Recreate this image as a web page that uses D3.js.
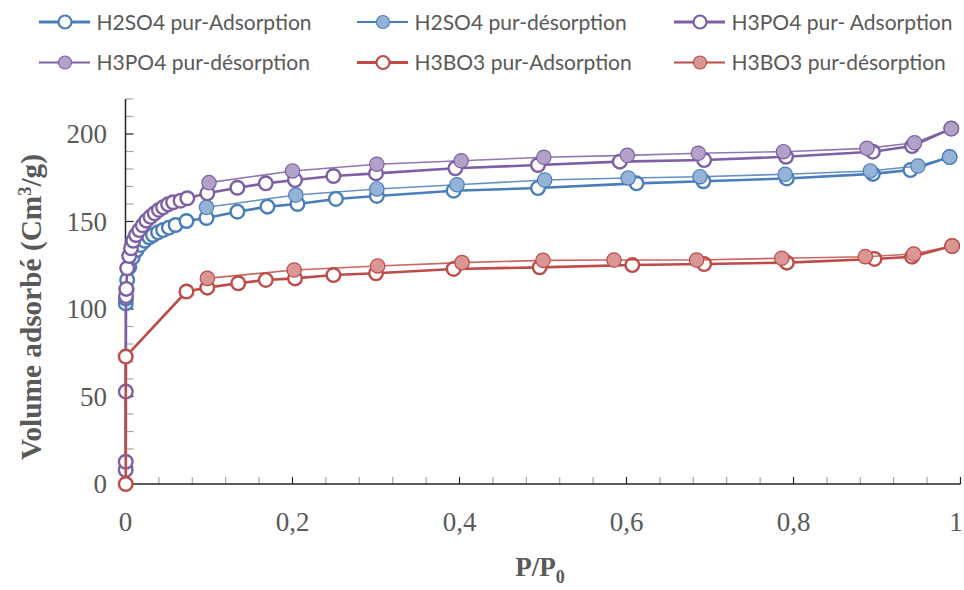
<!DOCTYPE html>
<html>
<head>
<meta charset="utf-8">
<script src="https://cdn.jsdelivr.net/npm/d3@7/dist/d3.min.js"></script>
<style>
  html, body { margin: 0; padding: 0; background: #fff; }
  svg { display: block; }
</style>
</head>
<body>
<svg id="chart" width="964" height="590"></svg>
<script>
// Nitrogen isotherms: relative pressure P/P0 and adsorbed volume (cm3/g)
const seriesNames = [
  "H2SO4 pur-Adsorption", "H2SO4 pur-désorption",
  "H3PO4 pur- Adsorption", "H3PO4 pur-désorption",
  "H3BO3 pur-Adsorption", "H3BO3 pur-désorption"
];

const h2so4AdsP = [0.0003, 0.0006, 0.0012, 0.002, 0.0045, 0.0086, 0.0134, 0.018, 0.023, 0.0285, 0.033, 0.039, 0.045, 0.052, 0.06, 0.073, 0.097, 0.134, 0.170, 0.206, 0.252, 0.301, 0.393, 0.494, 0.612, 0.692, 0.792, 0.895, 0.940, 0.987];
const h2so4AdsV = [103.2, 106, 111, 116.6, 124, 129.5, 133.7, 136.6, 139, 141, 142.3, 143.8, 145.1, 146.5, 148, 150.3, 152, 155.6, 158.5, 160, 162.9, 164.6, 167.6, 169.1, 171.8, 173, 174.6, 177.2, 179.4, 186.8];

const h2so4DesP = [0.987, 0.949, 0.892, 0.790, 0.688, 0.602, 0.502, 0.397, 0.301, 0.204, 0.097];
const h2so4DesV = [186.8, 181.7, 178.9, 177, 175.6, 174.9, 173.7, 171, 168.6, 165.1, 158.1];

const h3po4AdsP = [0.0002, 0.0003, 0.0004, 0.0006, 0.001, 0.002, 0.0045, 0.0066, 0.0093, 0.0126, 0.0165, 0.0206, 0.025, 0.030, 0.035, 0.040, 0.045, 0.051, 0.057, 0.066, 0.074, 0.098, 0.134, 0.168, 0.203, 0.249, 0.300, 0.395, 0.494, 0.592, 0.693, 0.791, 0.895, 0.942, 0.989];
const h3po4AdsV = [8, 12.7, 52.8, 107.4, 111.5, 123.3, 130.3, 134.7, 139, 142.3, 145.1, 147.8, 150.5, 152.7, 154.7, 156.6, 158.1, 159.8, 161, 161.9, 163.3, 166.1, 169.3, 171.8, 173.7, 176, 177.5, 180.4, 182.3, 184.2, 185.1, 187, 189.9, 193.1, 203.1];

const h3po4DesP = [0.989, 0.945, 0.888, 0.788, 0.686, 0.601, 0.501, 0.402, 0.301, 0.200, 0.100];
const h3po4DesV = [203.1, 195, 191.8, 189.9, 189, 187.8, 186.7, 184.7, 182.7, 178.9, 172.2];

const h3bo3AdsP = [0.0003, 0.0003, 0.073, 0.098, 0.135, 0.168, 0.203, 0.249, 0.300, 0.393, 0.496, 0.607, 0.693, 0.792, 0.897, 0.942, 0.990];
const h3bo3AdsV = [0, 72.8, 110, 112.2, 114.7, 116.6, 117.5, 119.4, 120.4, 122.9, 123.8, 125.1, 125.7, 126.5, 128.6, 129.9, 136];

const h3bo3DesP = [0.990, 0.944, 0.886, 0.786, 0.684, 0.585, 0.500, 0.403, 0.302, 0.202, 0.098];
const h3bo3DesV = [136, 131.4, 129.9, 129, 128, 128, 127.8, 126.5, 124.6, 122.3, 117.5];

const xTickLabels = ["0", "0,2", "0,4", "0,6", "0,8", "1"];
const yTickLabels = ["0", "50", "100", "150", "200"];

const lineColors = ["#4A7EBB", "#4A7EBB", "#7D5FA6", "#7D5FA6", "#BE4B48", "#BE4B48"];
const fillColors = ["#ffffff", "#95B3D7", "#ffffff", "#B3A2C7", "#ffffff", "#D99694"];
const isDesorption = [false, true, false, true, false, true];

const pArrays = [h2so4AdsP, h2so4DesP, h3po4AdsP, h3po4DesP, h3bo3AdsP, h3bo3DesP];
const vArrays = [h2so4AdsV, h2so4DesV, h3po4AdsV, h3po4DesV, h3bo3AdsV, h3bo3DesV];
const series = seriesNames.map((name, i) => ({
  name,
  stroke: lineColors[i],
  fill: fillColors[i],
  des: isDesorption[i],
  points: pArrays[i].map((p, j) => ({ p, v: vArrays[i][j] }))
}));

const svg = d3.select("#chart");
const x = d3.scaleLinear().domain([0, 1]).range([125.5, 960.5]);
const y = d3.scaleLinear().domain([0, 220]).range([484, 99]);

const axisColor = "#262626";
const textColor = "#595959";

// Minor ticks (inside the plot)
const gAxes = svg.append("g");
gAxes.selectAll("line.xminor")
  .data(d3.range(0, 1.0001, 0.04))
  .join("line")
  .attr("x1", d => x(d)).attr("x2", d => x(d))
  .attr("y1", y(0)).attr("y2", y(0) - 7)
  .attr("stroke", d => (Math.abs(d * 5 - Math.round(d * 5)) < 1e-6) ? axisColor : "#a6a6a6")
  .attr("stroke-width", 1.2);
gAxes.selectAll("line.yminor")
  .data(d3.range(0, 220.001, 10))
  .join("line")
  .attr("x1", x(0)).attr("x2", x(0) + 8)
  .attr("y1", d => y(d)).attr("y2", d => y(d))
  .attr("stroke", d => d % 50 === 0 ? axisColor : "#a6a6a6")
  .attr("stroke-width", 1.2);

// Axis lines
gAxes.append("line").attr("x1", x(0)).attr("x2", x(1)).attr("y1", y(0)).attr("y2", y(0))
  .attr("stroke", axisColor).attr("stroke-width", 1.5);
gAxes.append("line").attr("x1", x(0)).attr("x2", x(0)).attr("y1", y(0)).attr("y2", y(220))
  .attr("stroke", axisColor).attr("stroke-width", 1.5);

// Tick labels
const serif = "'Liberation Serif', 'Times New Roman', serif";
svg.append("g").selectAll("text")
  .data(xTickLabels)
  .join("text")
  .attr("x", (d, i) => Math.min(x(i * 0.2), 956))
  .attr("y", 531)
  .attr("text-anchor", "middle")
  .attr("font-family", serif).attr("font-size", 27).attr("fill", textColor)
  .text(d => d);
svg.append("g").selectAll("text")
  .data(yTickLabels)
  .join("text")
  .attr("x", 107)
  .attr("y", (d, i) => y(i * 50) + 9)
  .attr("text-anchor", "end")
  .attr("font-family", serif).attr("font-size", 27).attr("fill", textColor)
  .text(d => d);

// Axis titles
const xt = svg.append("text")
  .attr("x", 540).attr("y", 576)
  .attr("text-anchor", "middle")
  .attr("font-family", serif).attr("font-size", 27).attr("font-weight", "bold").attr("fill", textColor);
xt.append("tspan").text("P/P");
xt.append("tspan").attr("font-size", 18).attr("dy", 7).text("0");

const yt = svg.append("text")
  .attr("transform", "translate(41,307) rotate(-90)")
  .attr("text-anchor", "middle")
  .attr("font-family", serif).attr("font-size", 29.3).attr("font-weight", "bold").attr("fill", textColor);
yt.append("tspan").text("Volume adsorbé (Cm");
yt.append("tspan").attr("font-size", 18.5).attr("dy", -10).text("3");
yt.append("tspan").attr("dy", 10).text("/g)");

// Series: line then markers, drawn in legend order
const line = d3.line().x(d => x(d.p)).y(d => y(d.v));
const plot = svg.append("g");
series.forEach(s => {
  const g = plot.append("g");
  g.append("path")
    .datum(s.points)
    .attr("d", line)
    .attr("fill", "none")
    .attr("stroke", s.stroke)
    .attr("stroke-opacity", s.des ? 0.85 : 1)
    .attr("stroke-width", s.des ? 1.6 : 2.6)
    .attr("stroke-linejoin", "round");
  g.selectAll("circle")
    .data(s.points)
    .join("circle")
    .attr("cx", d => x(d.p))
    .attr("cy", d => y(d.v))
    .attr("r", s.des ? 7.2 : 6.8)
    .attr("fill", s.fill)
    .attr("stroke", s.stroke)
    .attr("stroke-width", s.des ? 1.2 : 2.4);
});

// Legend
const legendCols = [39, 357, 674];
const legendRows = [22, 62.5];
const legend = svg.append("g");
series.forEach((s, i) => {
  const lx = legendCols[i % 3];
  const ly = legendRows[Math.floor(i / 3)];
  const g = legend.append("g").attr("transform", `translate(${lx},${ly})`);
  g.append("line").attr("x1", 0).attr("x2", 51).attr("y1", 0).attr("y2", 0)
    .attr("stroke", s.stroke).attr("stroke-width", s.des ? 2 : 3);
  g.append("circle").attr("cx", 26).attr("cy", 0).attr("r", 6.5)
    .attr("fill", s.fill).attr("stroke", s.stroke).attr("stroke-width", s.des ? 1.2 : 2.2);
  g.append("text").attr("x", 57.5).attr("y", 7.5)
    .attr("font-family", "Lato, 'Open Sans', sans-serif").attr("font-size", 21)
    .attr("fill", "#595959")
    .text(s.name);
});
</script>
</body>
</html>
